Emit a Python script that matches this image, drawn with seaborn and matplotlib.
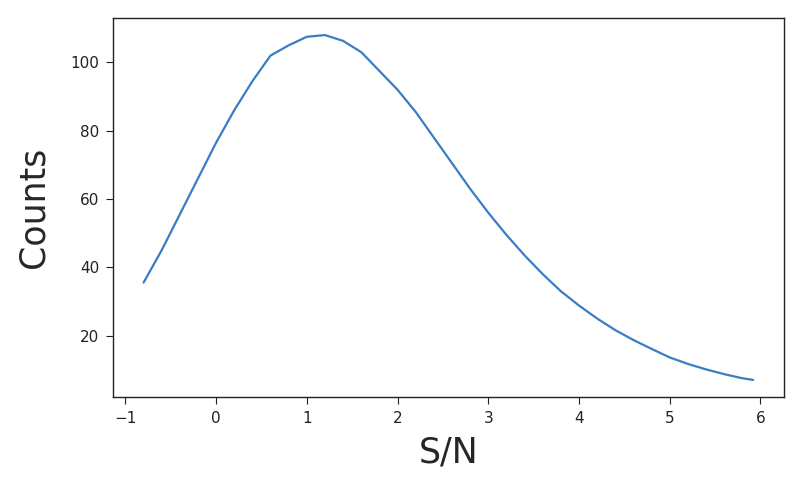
import seaborn as sns
import matplotlib.pyplot as plt
import pandas as pd

sn = [-0.8, -0.6, -0.4, -0.2, 0.0, 0.2, 0.4, 0.6, 0.8, 1.0, 1.2, 1.4, 1.6, 1.8,
      2.0, 2.2, 2.4, 2.6, 2.8, 3.0, 3.2, 3.4, 3.6, 3.8, 4.0, 4.2, 4.4, 4.6,
      4.8, 5.0, 5.2, 5.4, 5.6, 5.8, 5.92]
counts = [35.5, 45, 55.5, 66, 76.5, 86, 94.5, 102, 105, 107.5, 108, 106.3, 103,
          97.5, 92, 85.5, 78, 70.5, 63, 56, 49.5, 43.5, 38, 33, 28.8, 25, 21.6,
          18.7, 16.1, 13.6, 11.7, 10.1, 8.7, 7.5, 7.0]

df = pd.DataFrame({"S/N": sn, "Counts": counts})

sns.set_style("ticks")
fig = plt.figure(figsize=(8.02, 4.82), dpi=100)
ax = fig.add_axes([0.141, 0.176, 0.836, 0.787])
sns.lineplot(data=df, x="S/N", y="Counts", ax=ax, color="#3a7dc4", linewidth=1.6)
ax.set_xlabel("S/N", fontsize=25, labelpad=7)
ax.set_ylabel("Counts", fontsize=25, labelpad=14)
ax.tick_params(labelsize=11, length=5, pad=5, colors="#222222")
ax.set_xticks(range(-1, 7))
ax.set_yticks([20, 40, 60, 80, 100])
for s in ax.spines.values():
    s.set_visible(True)
    s.set_linewidth(1.0)
    s.set_color("#222222")
fig.savefig("out.png", dpi=100)
